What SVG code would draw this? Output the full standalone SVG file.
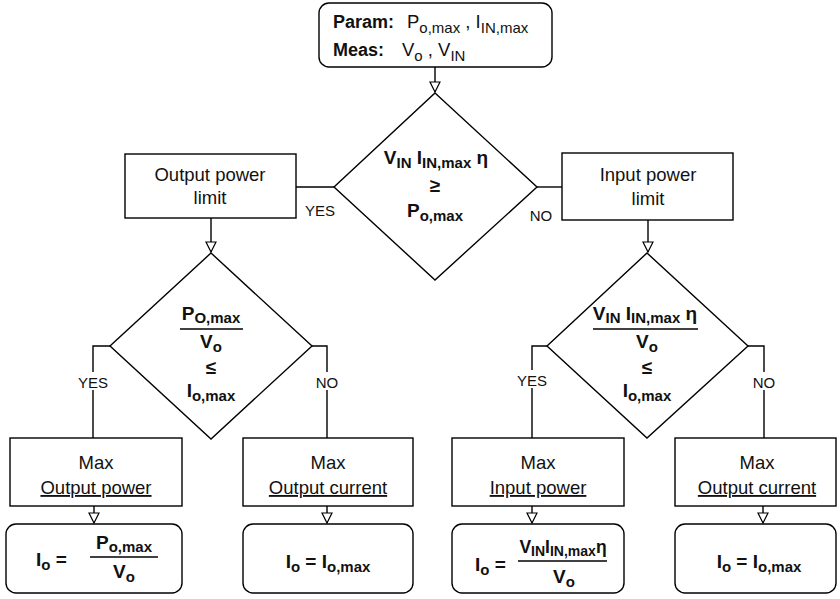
<svg xmlns="http://www.w3.org/2000/svg" width="840" height="599" viewBox="0 0 840 599">
  <defs>
    <marker id="arr" viewBox="0 0 12 12" refX="11" refY="6" markerWidth="12" markerHeight="12" markerUnits="userSpaceOnUse" orient="auto">
      <path d="M1,1 L11,6 L1,11 Z" fill="#fff" stroke="#000" stroke-width="1.2"/>
    </marker>
    <style>
      .shape { fill: #fff; stroke: #000; stroke-width: 1.4; }
      .conn { fill: none; stroke: #000; stroke-width: 1.4; }
      text { font-family: "Liberation Sans", Arial, sans-serif; fill: #111; }
      .t { font-size: 18.5px; text-anchor: middle; }
      .b { font-size: 19px; font-weight: bold; text-anchor: middle; }
      .lbl { font-size: 15px; text-anchor: middle; }
      .u { text-decoration: underline; }
      .lblbg { fill: #fff; stroke: none; }
      .s { font-size: 15px; }
    </style>
  </defs>

  <!-- connectors -->
  <g id="connectors">
    <path class="conn" d="M435,67 V92" marker-end="url(#arr)"/>
    <path class="conn" d="M296,187 H334"/>
    <path class="conn" d="M537,187 H562"/>
    <path class="conn" d="M211,218 V252" marker-end="url(#arr)"/>
    <path class="conn" d="M648,220 V252" marker-end="url(#arr)"/>
    <path class="conn" d="M110,346 H93 V438"/>
    <path class="conn" d="M312,346 H327 V438"/>
    <path class="conn" d="M547,346 H532 V438"/>
    <path class="conn" d="M748,346 H764 V438"/>
    <path class="conn" d="M94,506 V523" marker-end="url(#arr)"/>
    <path class="conn" d="M327,506 V523" marker-end="url(#arr)"/>
    <path class="conn" d="M532,506 V523" marker-end="url(#arr)"/>
    <path class="conn" d="M763,506 V523" marker-end="url(#arr)"/>
    <!-- branch labels -->
    <text class="lbl" x="320" y="216">YES</text>
    <text class="lbl" x="541" y="221">NO</text>
    <rect class="lblbg" x="76" y="372" width="36" height="18"/>
    <text class="lbl" x="93" y="388">YES</text>
    <rect class="lblbg" x="314" y="372" width="26" height="18"/>
    <text class="lbl" x="327" y="388">NO</text>
    <rect class="lblbg" x="514" y="370" width="36" height="18"/>
    <text class="lbl" x="532" y="386">YES</text>
    <rect class="lblbg" x="751" y="372" width="26" height="18"/>
    <text class="lbl" x="764" y="388">NO</text>
  </g>

  <!-- start: parameters and measurements -->
  <g id="start">
    <rect class="shape" x="319" y="3" width="233" height="64" rx="10"/>
    <text x="333" y="28" font-size="18" font-weight="bold">Param:</text>
    <text x="407" y="28" font-size="18.5">P<tspan dy="5" class="s">o,max</tspan><tspan dy="-5"> , I</tspan><tspan dy="5" class="s">IN,max</tspan></text>
    <text x="333" y="56" font-size="18" font-weight="bold">Meas:</text>
    <text x="402" y="56" font-size="18.5">V<tspan dy="5" class="s">o</tspan><tspan dy="-5"> , V</tspan><tspan dy="5" class="s">IN</tspan></text>
  </g>

  <!-- decision: input vs output power -->
  <g id="decision-main">
    <polygon class="shape" points="435,93 537,187 435,280 334,187"/>
    <text class="b" x="436" y="164">V<tspan dy="4" class="s">IN</tspan><tspan dy="-4"> I</tspan><tspan dy="4" class="s">IN,max</tspan><tspan dy="-4"> η</tspan></text>
    <text class="b" x="435" y="192">≥</text>
    <text class="b" x="435" y="217">P<tspan dy="4" class="s">o,max</tspan></text>
  </g>

  <g id="output-power-limit">
    <rect class="shape" x="125" y="154" width="171" height="64"/>
    <text class="t" x="210" y="181">Output power</text>
    <text class="t" x="210" y="204">limit</text>
  </g>

  <g id="input-power-limit">
    <rect class="shape" x="562" y="153" width="171" height="67"/>
    <text class="t" x="648" y="181">Input power</text>
    <text class="t" x="648" y="205">limit</text>
  </g>

  <!-- decision: output power branch -->
  <g id="decision-output">
    <polygon class="shape" points="211,253 312,346 211,439 110,346"/>
    <text class="b" x="211" y="320">P<tspan dy="3" class="s">O,max</tspan></text>
    <line class="conn" x1="180" y1="329" x2="243" y2="329"/>
    <text class="b" x="211" y="348">V<tspan dy="4" class="s">o</tspan></text>
    <text class="b" x="211" y="374">≤</text>
    <text class="b" x="211" y="397">I<tspan dy="4" class="s">o,max</tspan></text>
  </g>

  <!-- decision: input power branch -->
  <g id="decision-input">
    <polygon class="shape" points="647,253 748,346 647,438 547,346"/>
    <text class="b" x="645" y="320">V<tspan dy="3" class="s">IN</tspan><tspan dy="-3"> I</tspan><tspan dy="3" class="s">IN,max</tspan><tspan dy="-3"> η</tspan></text>
    <line class="conn" x1="593" y1="329" x2="698" y2="329"/>
    <text class="b" x="647" y="348">V<tspan dy="4" class="s">o</tspan></text>
    <text class="b" x="647" y="374">≤</text>
    <text class="b" x="647" y="397">I<tspan dy="4" class="s">o,max</tspan></text>
  </g>

  <!-- results -->
  <g id="max-output-power">
    <rect class="shape" x="10" y="438" width="172" height="68"/>
    <text class="t" x="96" y="469">Max</text>
    <text class="t u" x="96" y="494">Output power</text>
  </g>
  <g id="max-output-current-1">
    <rect class="shape" x="243" y="438" width="170" height="68"/>
    <text class="t" x="328" y="469">Max</text>
    <text class="t u" x="328" y="494">Output current</text>
  </g>
  <g id="max-input-power">
    <rect class="shape" x="452" y="438" width="172" height="68"/>
    <text class="t" x="538" y="469">Max</text>
    <text class="t u" x="538" y="494">Input power</text>
  </g>
  <g id="max-output-current-2">
    <rect class="shape" x="675" y="438" width="161" height="68"/>
    <text class="t" x="757" y="469">Max</text>
    <text class="t u" x="757" y="494">Output current</text>
  </g>

  <g id="eq-output-power">
    <rect class="shape" x="6" y="524" width="176" height="69" rx="10"/>
    <text x="36" y="566" font-size="19" font-weight="bold">I<tspan dy="4" class="s">o</tspan><tspan dy="-4"> =</tspan></text>
    <text class="b" x="124" y="549">P<tspan dy="3" class="s">o,max</tspan></text>
    <line class="conn" x1="90" y1="557" x2="158" y2="557"/>
    <text class="b" x="124" y="578">V<tspan dy="4" class="s">o</tspan></text>
  </g>
  <g id="eq-output-current-1">
    <rect class="shape" x="243" y="524" width="170" height="69" rx="10"/>
    <text class="b" x="328" y="568">I<tspan dy="4" class="s">o</tspan><tspan dy="-4"> = I</tspan><tspan dy="4" class="s">o,max</tspan></text>
  </g>
  <g id="eq-input-power">
    <rect class="shape" x="452" y="524" width="172" height="69" rx="10"/>
    <text x="475" y="571" font-size="19" font-weight="bold">I<tspan dy="4" class="s">o</tspan><tspan dy="-4"> =</tspan></text>
    <text x="563" y="553" font-size="17.5" font-weight="bold" text-anchor="middle">V<tspan dy="3" font-size="14">IN</tspan><tspan dy="-3">I</tspan><tspan dy="3" font-size="14">IN,max</tspan><tspan dy="-3">η</tspan></text>
    <line class="conn" x1="518" y1="561" x2="607" y2="561"/>
    <text class="b" x="564" y="583">V<tspan dy="4" class="s">o</tspan></text>
  </g>
  <g id="eq-output-current-2">
    <rect class="shape" x="675" y="524" width="161" height="69" rx="10"/>
    <text class="b" x="759" y="568">I<tspan dy="4" class="s">o</tspan><tspan dy="-4"> = I</tspan><tspan dy="4" class="s">o,max</tspan></text>
  </g>
</svg>
